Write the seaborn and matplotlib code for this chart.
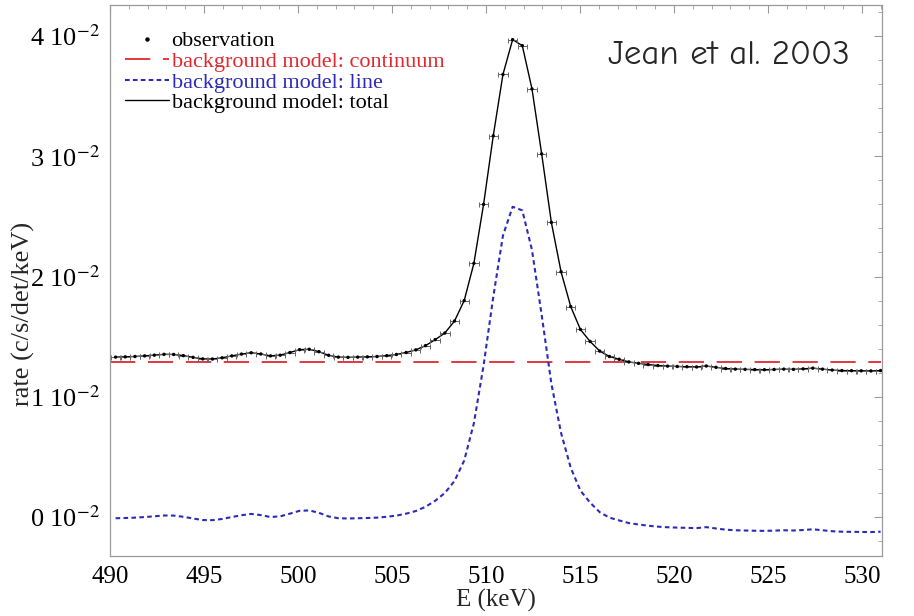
import numpy as np
import pandas as pd
import matplotlib
matplotlib.use("Agg")
import matplotlib.pyplot as plt
from matplotlib.ticker import MultipleLocator, FuncFormatter
from matplotlib.lines import Line2D
import seaborn as sns

# ---------------- data ----------------
energy_start = 490.3
energy_step = 0.515
energy = [energy_start + energy_step * i for i in range(80)]  # bin centres (keV)

observation = [
    0.01330, 0.01332, 0.01335, 0.01340, 0.01346, 0.01353, 0.01352, 0.01342, 0.01328, 0.01315,
    0.01314, 0.01324, 0.01340, 0.01355, 0.01366, 0.01356, 0.01340, 0.01346, 0.01368, 0.01392,
    0.01395, 0.01375, 0.01345, 0.01330, 0.01328, 0.01330, 0.01332, 0.01335, 0.01342, 0.01352,
    0.01368, 0.01390, 0.01425, 0.01475, 0.01530, 0.01630, 0.01800, 0.02110, 0.02600, 0.03170,
    0.03680, 0.03970, 0.03920, 0.03560, 0.03020, 0.02450, 0.02040, 0.01750, 0.01560, 0.01460,
    0.01380, 0.01335, 0.01312, 0.01290, 0.01278, 0.01268, 0.01260, 0.01255, 0.01252, 0.01250,
    0.01248, 0.01256, 0.01245, 0.01235, 0.01230, 0.01228, 0.01226, 0.01225, 0.01227, 0.01230,
    0.01228, 0.01232, 0.01238, 0.01230, 0.01222, 0.01218, 0.01217, 0.01216, 0.01215, 0.01218,
]

continuum_x = [490.0, 531.0]
continuum = [0.01290, 0.01290]

line_model = [
    -0.00010, -0.00008, -0.00005, 0.00000, 0.00006, 0.00013, 0.00012, 0.00002, -0.00012, -0.00025,
    -0.00026, -0.00016, 0.00000, 0.00015, 0.00026, 0.00016, 0.00000, 0.00006, 0.00028, 0.00052,
    0.00055, 0.00035, 0.00005, -0.00010, -0.00012, -0.00010, -0.00008, -0.00005, 0.00002, 0.00012,
    0.00028, 0.00050, 0.00085, 0.00135, 0.00200, 0.00300, 0.00470, 0.00780, 0.01260, 0.01830,
    0.02340, 0.02580, 0.02550, 0.02220, 0.01680, 0.01110, 0.00700, 0.00410, 0.00220, 0.00120,
    0.00040, -0.00005, -0.00028, -0.00050, -0.00062, -0.00072, -0.00080, -0.00085, -0.00088, -0.00090,
    -0.00092, -0.00084, -0.00095, -0.00105, -0.00110, -0.00112, -0.00114, -0.00115, -0.00113, -0.00110,
    -0.00112, -0.00108, -0.00102, -0.00110, -0.00118, -0.00122, -0.00123, -0.00124, -0.00125, -0.00122,
]

bin_half_width = 0.25
x_ticks = [490, 495, 500, 505, 510, 515, 520, 525, 530]
y_ticks = [0.0, 0.01, 0.02, 0.03, 0.04]

legend_labels = ["observation", "background model: continuum",
                 "background model: line", "background model: total"]
title_text = "Jean et al. 2003"

# ---------------- style ----------------
sns.set_theme(style="white")
plt.rcParams["font.family"] = ["Liberation Serif", "DejaVu Serif"]
plt.rcParams["mathtext.fontset"] = "stix"

df_obs = pd.DataFrame({"E": energy, "rate": observation})
df_line = pd.DataFrame({"E": energy, "rate": line_model})
df_cont = pd.DataFrame({"E": continuum_x, "rate": continuum})

fig = plt.figure(figsize=(9.14, 6.16), dpi=100)
ax = fig.add_axes([0.1203, 0.0974, 0.8447, 0.8945])

red = "#e0282e"
blue = "#2b2bb8"

sns.lineplot(data=df_cont, x="E", y="rate", ax=ax, color=red, lw=1.3,
             linestyle=(0, (14, 7)))
sns.lineplot(data=df_line, x="E", y="rate", ax=ax, color=blue, lw=1.5,
             linestyle=(0, (2.2, 1.6)))
sns.lineplot(data=df_obs, x="E", y="rate", ax=ax, color="black", lw=1.0)
ax.errorbar(energy, observation, xerr=bin_half_width, fmt="none",
            ecolor="#666666", elinewidth=0.7, capsize=1.8, capthick=0.7)
sns.scatterplot(data=df_obs, x="E", y="rate", ax=ax, color="black", s=6,
                edgecolor="none", zorder=5)

ax.set_xlim(490, 531.06)
ax.set_ylim(-0.00324, 0.04258)
ax.set_xticks(x_ticks)
ax.set_yticks(y_ticks)
ax.xaxis.set_minor_locator(MultipleLocator(1))
ax.yaxis.set_minor_locator(MultipleLocator(0.002))
ax.yaxis.set_major_formatter(FuncFormatter(
    lambda v, p: f"{int(round(v * 100))} 10$^{{-2}}$"))

ax.tick_params(which="both", direction="in", top=True, right=True,
               color="#9a9a9a", labelcolor="black")
ax.tick_params(axis="x", labelsize=18)
ax.tick_params(axis="y", labelsize=19)
ax.tick_params(which="major", length=6, width=0.8, pad=7)
ax.tick_params(which="minor", length=3, width=0.6)
for s in ax.spines.values():
    s.set_color("#9a9a9a")
    s.set_linewidth(0.9)

ax.set_xlabel("E (keV)", fontsize=18, labelpad=1)
ax.set_ylabel("rate (c/s/det/keV)", fontsize=19)
ax.yaxis.set_label_coords(-0.097, 0.44)

handles = [
    Line2D([], [], marker="o", markersize=2.2, color="black", linestyle="none"),
    Line2D([], [], color=red, lw=1.3, linestyle=(0, (14, 7))),
    Line2D([], [], color=blue, lw=1.5, linestyle=(0, (2.2, 1.6))),
    Line2D([], [], color="black", lw=1.0),
]
leg = ax.legend(handles, legend_labels, loc="upper left", frameon=False,
                fontsize=16, handlelength=2.0, handletextpad=0.1,
                labelspacing=0.0, borderaxespad=0.0, borderpad=0.0,
                bbox_to_anchor=(0.0194, 0.953))
for t, c in zip(leg.get_texts(), ["black", red, blue, "black"]):
    t.set_color(c)

ax.text(0.802, 0.909, title_text, transform=ax.transAxes, ha="center",
        va="center", fontsize=25, family=["Comic Neue", "DejaVu Sans"])

fig.savefig("out.png", dpi=100)
